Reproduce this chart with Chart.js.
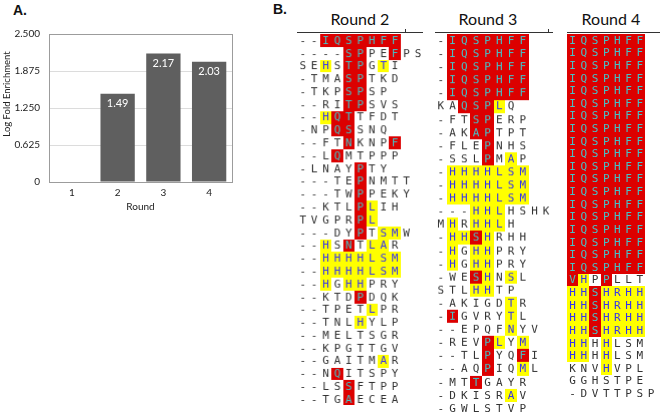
<!DOCTYPE html>
<html>
<head>
<meta charset="utf-8">
<script src="https://cdn.jsdelivr.net/npm/chart.js@4.4.1/dist/chart.umd.min.js"></script>
<style>
  html, body { margin: 0; padding: 0; background: #fff; }
  body { width: 662px; height: 418px; position: relative; overflow: hidden; }
  .box { position: absolute; }
  .panel-label { position: absolute; font: bold 14px "Liberation Sans", Arial, sans-serif; line-height: 14px; color: #111; }
  .round-title { position: absolute; width: 100px; text-align: center; font: 16px Lato, sans-serif; line-height: 16px; color: #111; }
  .rule { position: absolute; height: 1px; background: #333; }
  .rule-tick { position: absolute; width: 1px; height: 4px; background: #333; }
</style>
</head>
<body>
<div class="panel-label" style="left:13px;top:3px">A.</div>
<div class="panel-label" style="left:273px;top:2px">B.</div>
<div class="box" style="left:0;top:0;width:265px;height:230px"><canvas id="enrichChart"></canvas></div>
<div id="panelB"></div>
<script>
// panel A data
const rounds = ['1', '2', '3', '4'];
const logFoldEnrichment = [0, 1.49, 2.17, 2.03];
const yTickValues = [0, 0.625, 1.25, 1.875, 2.5];

// panel B: sequences per round, and marks (r = red, y = yellow, . = none)
const round2Seqs = [
  '--IQSPHFF', '----SPPEFPS', 'SEHSTPGTI', '-TMASPTKD', '-TKPSPSP', '--RITPSVS',
  '--HQTTFDT', '-NPQSSNQ', '--FTNKNPF', '--LQMTPPP', '-LNAYPTY', '---TEPNMTT',
  '---TWPPEKY', '--KTLPLIH', 'TVGPRPL', '---DYPTSMW', '--HSNTLAR', '--HHHHLSM',
  '--HHHHLSM', '--HGHHPRY', '--KTDPDQK', '--TPETLPR', '--TNLHYLP', '--MELTSGR',
  '--KPGTTGV', '--GAITMAR', '--NQITSPY', '--LSSFTPP', '--TGAECEA'
];
const round2Marks = [
  '..rrrrrrr', '....rr..r..', '..y.rr.y.', '....rr...', '....rr..', '....rr...',
  '..yrr....', '...rr...', '....r...r', '...r.....', '.....r..', '.....r....',
  '.....r....', '.....ry..', '.....ry', '.....r.yy.', '..y.r.yy.', '..yyyyyyy',
  '..yyyyyyy', '..y.yy...', '.....r...', '......y..', '.....y...', '.........',
  '.........', '.......y.', '...r.....', '....r....', '....r....'
];

const round3Seqs = [
  '-IQSPHFF', '-IQSPHFF', '-IQSPHFF', '-IQSPHFF', '-IQSPHFF', 'KAQSPLQ',
  '-FTSPERP', '-AKAPTPT', '-FLEPNHS', '-SSLPMAP', '-HHHHLSM', '-HHHHLSM',
  '-HHHHLSM', '---HHLHSHK', 'MHRHHLH', '-HHSHRHH', '-HGHHPRY', '-HGHHPRY',
  '-WESHNSL', 'STLHHTP', '-AKIGDTR', '-IGVRYTL', '--EPQFNYV', '-REVPLYM',
  '--TLPYQFI', '--AQPIQML', '-MTTGAYR', '-DKISRAV', '-GWLSTVP'
];
const round3Marks = [
  '.rrrrrrr', '.rrrrrrr', '.rrrrrrr', '.rrrrrrr', '.rrrrrrr', '..rrry.',
  '...rr...', '...rr...', '....r...', '....r.y.', '.yyyyyyy', '.yyyyyyy',
  '.yyyyyyy', '...yyy....', '.y.yyy.', '.yyry...', '.y.yy...', '.y.yy...',
  '...ry.y.', '...yy..', '......y.', '.r....y.', '......y..', '....ry.y',
  '....r..r.', '....r..y.', '...r....', '......y.', '........'
];

const round4Seqs = [
  'IQSPHFF', 'IQSPHFF', 'IQSPHFF', 'IQSPHFF', 'IQSPHFF', 'IQSPHFF', 'IQSPHFF',
  'IQSPHFF', 'IQSPHFF', 'IQSPHFF', 'IQSPHFF', 'IQSPHFF', 'IQSPHFF', 'IQSPHFF',
  'IQSPHFF', 'IQSPHFF', 'IQSPHFF', 'IQSPHFF', 'IQSPHFF', 'VHPPLLT',
  'HHSHRHH', 'HHSHRHH', 'HHSHRHH', 'HHSHRHH', 'HHHHLSM', 'HHHHLSM',
  'KNVHVPL', 'GGHSTPE', '-DVTTPSP'
];
const round4Marks = [
  'rrrrrrr', 'rrrrrrr', 'rrrrrrr', 'rrrrrrr', 'rrrrrrr', 'rrrrrrr', 'rrrrrrr',
  'rrrrrrr', 'rrrrrrr', 'rrrrrrr', 'rrrrrrr', 'rrrrrrr', 'rrrrrrr', 'rrrrrrr',
  'rrrrrrr', 'rrrrrrr', 'rrrrrrr', 'rrrrrrr', 'rrrrrrr', 'ry.r...',
  'yyryyyy', 'yyryyyy', 'yyryyyy', 'yyryyyy', 'yy.y...', 'yy.y...',
  '...y...', '.......', '........'
];

const markFill = { r: '#dc0000', y: '#ffff00' };
const markText = { r: '#45c2c8', y: '#3434ee', '.': '#333333' };

// ---------- panel A ----------
const framePlugin = {
  id: 'frame',
  afterDraw(chart) {
    const { ctx, chartArea: a } = chart;
    ctx.save();
    ctx.strokeStyle = '#9c9c9c';
    ctx.lineWidth = 1;
    ctx.strokeRect(Math.round(a.left) + 0.5, Math.round(a.top) + 0.5,
      Math.round(a.right - a.left), Math.round(a.bottom - a.top));
    ctx.restore();
  }
};

const barLabelPlugin = {
  id: 'barLabels',
  afterDatasetsDraw(chart) {
    const { ctx } = chart;
    const meta = chart.getDatasetMeta(0);
    ctx.save();
    ctx.fillStyle = '#ffffff';
    ctx.font = '11px Lato, sans-serif';
    ctx.textAlign = 'center';
    ctx.textBaseline = 'middle';
    meta.data.forEach((bar, i) => {
      const v = logFoldEnrichment[i];
      if (!v) return;
      ctx.fillText(v.toFixed(2), bar.x, bar.y + 10);
    });
    ctx.restore();
  }
};

const yTitlePlugin = {
  id: 'yTitle',
  afterDraw(chart) {
    const { ctx } = chart;
    ctx.save();
    ctx.translate(7, 94);
    ctx.rotate(-Math.PI / 2);
    ctx.fillStyle = '#222';
    ctx.font = '9.5px Lato, sans-serif';
    ctx.textAlign = 'center';
    ctx.textBaseline = 'middle';
    ctx.fillText('Log Fold Enrichment', 0, 0);
    ctx.restore();
  }
};

new Chart(document.getElementById('enrichChart'), {
  type: 'bar',
  data: {
    labels: rounds,
    datasets: [{
      data: logFoldEnrichment,
      backgroundColor: '#5f5f5f',
      barPercentage: 0.75,
      categoryPercentage: 1
    }]
  },
  options: {
    responsive: true,
    maintainAspectRatio: false,
    animation: false,
    events: [],
    layout: { padding: { top: 34, right: 33, left: 0, bottom: 17 } },
    plugins: { legend: { display: false }, tooltip: { enabled: false } },
    scales: {
      x: {
        grid: { display: false, drawTicks: false },
        border: { display: false },
        ticks: { color: '#222', font: { family: 'Lato', size: 10 }, padding: 5 },
        title: { display: true, text: 'Round', color: '#222', font: { family: 'Lato', size: 10 }, padding: { top: 1, bottom: 0 } },
        afterFit(s) { s.height = 31; }
      },
      y: {
        min: 0,
        max: 2.5,
        afterBuildTicks(s) { s.ticks = yTickValues.map(v => ({ value: v })); },
        grid: { color: '#dcdcdc', drawTicks: false },
        border: { display: false },
        ticks: {
          padding: 9,
          color: '#222',
          font: { family: 'Lato', size: 10 },
          callback: v => v === 0 ? '0' : v.toFixed(3)
        },
        afterFit(s) { s.width = 49; }
      }
    }
  },
  plugins: [framePlugin, barLabelPlugin, yTitlePlugin]
});

// ---------- panel B ----------
const cellPlugin = {
  id: 'alignmentCells',
  afterDatasetsDraw(chart) {
    const { ctx, scales: { x, y } } = chart;
    const hw = Math.abs(x.getPixelForValue(1) - x.getPixelForValue(0)) / 2;
    const hh = Math.abs(y.getPixelForValue(1) - y.getPixelForValue(0)) / 2;
    const meta = chart.getDatasetMeta(0);
    const pts = chart.data.datasets[0].data;
    ctx.save();
    meta.data.forEach((el, i) => {
      const fill = markFill[pts[i].mark];
      if (!fill) return;
      const l = Math.round(el.x - hw), r = Math.round(el.x + hw);
      const t = Math.round(el.y - hh), b = Math.round(el.y + hh);
      ctx.fillStyle = fill;
      ctx.fillRect(l, t, r - l, b - t);
    });
    ctx.font = '11px "DejaVu Sans Mono", monospace';
    ctx.textAlign = 'center';
    ctx.textBaseline = 'middle';
    meta.data.forEach((el, i) => {
      const p = pts[i];
      ctx.fillStyle = markText[p.mark] || markText['.'];
      ctx.fillText(p.ch, el.x, el.y + 0.5);
    });
    ctx.restore();
  }
};

const panels = [
  { title: 'Round 2', seqs: round2Seqs, marks: round2Marks, cols: 11,
    left: 297, top: 34, cellW: 11.43, rowH: 12.79, titleX: 360, ruleL: 297, ruleR: 423, tickX: 405 },
  { title: 'Round 3', seqs: round3Seqs, marks: round3Marks, cols: 10,
    left: 435, top: 34, cellW: 11.7, rowH: 13.1, titleX: 488, ruleL: 435, ruleR: 553, tickX: 548 },
  { title: 'Round 4', seqs: round4Seqs, marks: round4Marks, cols: 8,
    left: 566.7, top: 34, cellW: 11.2, rowH: 12.62, titleX: 611, ruleL: 567, ruleR: 660, tickX: null }
];

const host = document.getElementById('panelB');
panels.forEach(p => {
  const title = document.createElement('div');
  title.className = 'round-title';
  title.style.left = (p.titleX - 50) + 'px';
  title.style.top = '11px';
  title.textContent = p.title;
  host.appendChild(title);

  const rule = document.createElement('div');
  rule.className = 'rule';
  rule.style.left = p.ruleL + 'px';
  rule.style.width = (p.ruleR - p.ruleL) + 'px';
  rule.style.top = '32px';
  host.appendChild(rule);

  if (p.tickX) {
    const t = document.createElement('div');
    t.className = 'rule-tick';
    t.style.left = p.tickX + 'px';
    t.style.top = '29px';
    host.appendChild(t);
  }

  const box = document.createElement('div');
  box.className = 'box';
  box.style.left = p.left + 'px';
  box.style.top = p.top + 'px';
  box.style.width = (p.cols * p.cellW) + 'px';
  box.style.height = (p.seqs.length * p.rowH) + 'px';
  const canvas = document.createElement('canvas');
  box.appendChild(canvas);
  host.appendChild(box);

  const points = [];
  p.seqs.forEach((seq, row) => {
    const mk = p.marks[row];
    for (let c = 0; c < seq.length; c++) {
      points.push({ x: c, y: row, ch: seq[c], mark: mk[c] || '.' });
    }
  });

  new Chart(canvas, {
    type: 'scatter',
    data: { datasets: [{ data: points, pointRadius: 0, pointHoverRadius: 0 }] },
    options: {
      responsive: true,
      maintainAspectRatio: false,
      animation: false,
      events: [],
      layout: { padding: 0 },
      plugins: { legend: { display: false }, tooltip: { enabled: false } },
      scales: {
        x: { type: 'linear', display: false, min: -0.5, max: p.cols - 0.5 },
        y: { type: 'linear', display: false, min: -0.5, max: p.seqs.length - 0.5, reverse: true }
      }
    },
    plugins: [cellPlugin]
  });
});
</script>
</body>
</html>
